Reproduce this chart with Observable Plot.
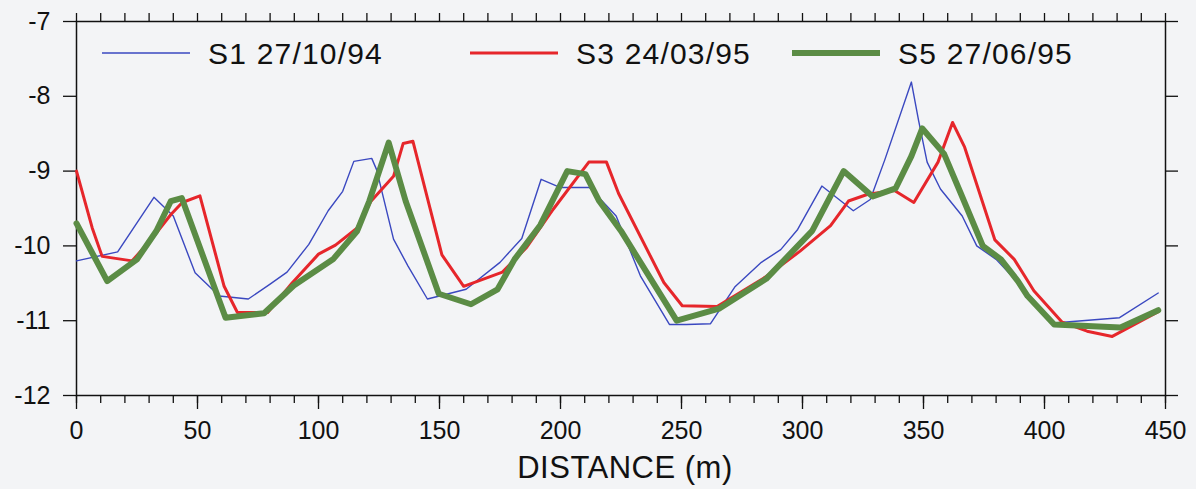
<!DOCTYPE html>
<html>
<head>
<meta charset="utf-8">
<script src="https://cdn.jsdelivr.net/npm/d3@7"></script>
<script src="https://cdn.jsdelivr.net/npm/@observablehq/plot@0.6"></script>
<style>
  html, body { margin: 0; padding: 0; background: #f3f4f6; }
  #wrap { position: relative; width: 1196px; height: 489px; font-family: "Liberation Sans", Arial, sans-serif; }
  #legend { position: absolute; left: 0; top: 0; }
  #xlabel { position: absolute; left: 0; width: 1196px; top: 450px; text-align: center; font-size: 31px; color: #111; padding-left: 54px; box-sizing: border-box; letter-spacing: 0.5px; }
</style>
</head>
<body>
<div id="wrap"></div>
<script>
// ---- data ----
const seriesNames = ["S1 27/10/94", "S3 24/03/95", "S5 27/06/95"];
const seriesColors = ["#3a48c0", "#e6262b", "#5b8c45"];
const seriesWidths = [1.4, 3, 6];

const s1Dist = [0, 17, 32, 40, 49, 59, 71, 80, 87, 96, 104, 110, 114.6, 122, 124, 131, 137, 145, 150, 161, 175, 184, 192, 200, 212, 223, 233, 245, 252, 262, 272, 283, 291, 298, 308, 321, 328, 334, 345, 348, 351.5, 357, 366, 372, 380, 389, 404, 431, 447];
const s1Level = [-10.2, -10.08, -9.35, -9.6, -10.36, -10.67, -10.71, -10.51, -10.35, -9.98, -9.53, -9.27, -8.87, -8.83, -8.98, -9.91, -10.27, -10.71, -10.67, -10.58, -10.22, -9.9, -9.11, -9.22, -9.22, -9.6, -10.4, -11.05, -11.05, -11.04, -10.55, -10.22, -10.05, -9.78, -9.2, -9.53, -9.38, -8.85, -7.81, -8.33, -8.88, -9.24, -9.6, -10.0, -10.18, -10.49, -11.03, -10.96, -10.63];

const s3Dist = [0, 6.5, 10.6, 23, 32, 39, 43.7, 51, 61, 66.5, 79, 89, 100, 107, 116, 121.5, 131, 135, 139, 151, 160, 176, 186, 197, 211.7, 219, 224, 242.7, 250.3, 264.7, 285, 299, 311.6, 319, 327, 338, 346, 356, 362, 367, 379.5, 387.5, 395.6, 407.3, 417.6, 428, 447];
const s3Level = [-9.0, -9.76, -10.14, -10.2, -9.87, -9.58, -9.42, -9.33, -10.54, -10.89, -10.89, -10.5, -10.11, -9.99, -9.76, -9.41, -9.07, -8.63, -8.6, -10.12, -10.54, -10.35, -10.02, -9.51, -8.88, -8.88, -9.3, -10.49, -10.8, -10.81, -10.41, -10.07, -9.73, -9.4, -9.31, -9.26, -9.42, -8.88, -8.35, -8.68, -9.92, -10.18, -10.6, -11.02, -11.14, -11.21, -10.88];

const s5Dist = [0, 12.7, 25, 33, 39, 43.5, 61.6, 77.5, 89.8, 106, 116, 121, 129, 136, 149.7, 163, 174, 181, 191.7, 202.8, 210.3, 216, 225, 248, 265.5, 285, 304, 317, 329, 338.5, 345, 349.5, 358.5, 365.3, 374.5, 382, 389, 393, 404, 431.4, 447];
const s5Level = [-9.7, -10.47, -10.18, -9.8, -9.4, -9.36, -10.96, -10.9, -10.53, -10.18, -9.8, -9.4, -8.62, -9.4, -10.64, -10.78, -10.58, -10.18, -9.72, -9.0, -9.04, -9.4, -9.8, -11.0, -10.84, -10.44, -9.8, -9.0, -9.34, -9.23, -8.8, -8.43, -8.77, -9.29, -10.0, -10.18, -10.47, -10.67, -11.05, -11.09, -10.86];

const xMajorTicks = [0, 50, 100, 150, 200, 250, 300, 350, 400, 450];
const xMinorTicks = [0, 10, 20, 30, 40, 50, 60, 70, 80, 90, 100, 110, 120, 130, 140, 150, 160, 170, 180, 190, 200, 210, 220, 230, 240, 250, 260, 270, 280, 290, 300, 310, 320, 330, 340, 350, 360, 370, 380, 390, 400, 410, 420, 430, 440, 450];
const yTicks = [-12, -11, -10, -9, -8, -7];
const xLabel = "DISTANCE (m)";

// ---- build table ----
const allDist = [s1Dist, s3Dist, s5Dist];
const allLevel = [s1Level, s3Level, s5Level];
const rows = [];
allDist.forEach((ds, k) => ds.forEach((d, i) => rows.push({series: seriesNames[k], k, x: d, y: allLevel[k][i]})));

const font = '"Liberation Sans", Arial, sans-serif';

const chart = Plot.plot({
  width: 1196,
  height: 489,
  marginLeft: 76,
  marginRight: 31,
  marginTop: 21,
  marginBottom: 94,
  style: {background: "transparent", fontFamily: font, fontSize: "25px", color: "#111"},
  x: {domain: [0, 450], label: null},
  y: {domain: [-12, -7], label: null},
  marks: [
    Plot.axisX(xMinorTicks, {anchor: "bottom", tickSize: 8, fill: "none", strokeWidth: 1.3, stroke: "#111"}),
    Plot.axisX(xMajorTicks, {anchor: "bottom", tickSize: 14, tickPadding: 12, strokeWidth: 1.3, stroke: "#111", tickFormat: d => String(d), fontSize: 25, label: null}),
    Plot.axisX(xMinorTicks, {anchor: "top", tickSize: 9, fill: "none", strokeWidth: 1.3, stroke: "#111", label: null}),
    Plot.axisY(yTicks, {anchor: "left", tickSize: 13, tickPadding: 13, strokeWidth: 1.3, stroke: "#111", tickFormat: d => String(d), fontSize: 25, label: null}),
    Plot.axisY(yTicks, {anchor: "right", tickSize: 12, fill: "none", strokeWidth: 1.3, stroke: "#111", label: null}),
    Plot.frame({stroke: "#111", strokeWidth: 1.5}),
    ...seriesNames.map((name, k) => Plot.line(rows.filter(r => r.k === k), {
      x: "x", y: "y", stroke: seriesColors[k], strokeWidth: seriesWidths[k], strokeLinejoin: "round"
    }))
  ]
});

const wrap = document.getElementById("wrap");
wrap.appendChild(chart);

// legend overlay (inside the plot area, as in the reference)
const legendX = [102, 470, 792];
const leg = d3.create("svg").attr("id", "legend").attr("width", 1196).attr("height", 90)
  .style("font-family", font);
seriesNames.forEach((name, k) => {
  const g = leg.append("g").attr("transform", `translate(${legendX[k]},53)`);
  g.append("line").attr("x1", 0).attr("x2", 88).attr("y1", 0).attr("y2", 0)
    .attr("stroke", seriesColors[k]).attr("stroke-width", seriesWidths[k]);
  g.append("text").attr("x", 106).attr("y", 0).attr("dy", "0.35em")
    .attr("font-size", 30).attr("letter-spacing", "1.2px").attr("fill", "#111").text(name);
});
wrap.appendChild(leg.node());

const xl = document.createElement("div");
xl.id = "xlabel";
xl.textContent = xLabel;
wrap.appendChild(xl);
</script>
</body>
</html>
